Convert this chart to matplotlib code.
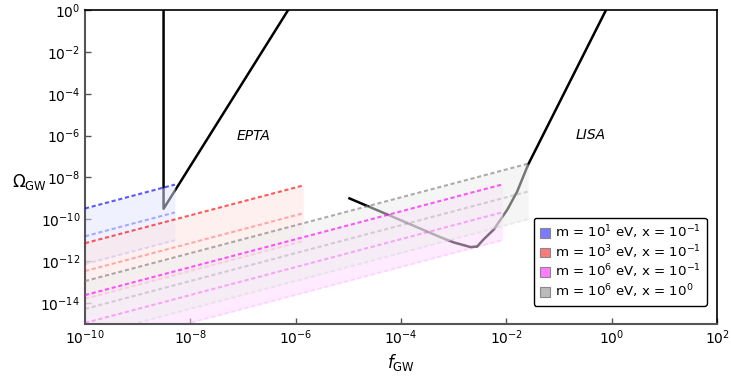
import numpy as np
import matplotlib
matplotlib.use("Agg")
import matplotlib.pyplot as plt
from matplotlib.patches import Patch

# sensitivity curves
epta_f = [3.1e-9, 3.1e-9, 7.2e-7]
epta_om = [1e0, 3.2e-10, 1e0]

lisa_f = [1.05e-5, 5.5e-5, 5.6e-4, 1.0e-3, 2.1e-3, 2.8e-3, 3.7e-3,
          5.8e-3, 1.05e-2, 1.6e-2, 2.6e-2, 0.78]
lisa_om = [1.0e-9, 1.7e-10, 1.4e-11, 7.9e-12, 4.7e-12, 5.1e-12, 1.1e-11,
           3.3e-11, 3.0e-10, 2.1e-9, 4.2e-8, 1e0]

# signal bands: start/end frequency and log10(Omega) of 3 lines at both ends
labels = [r"m = $10^{1}$ eV, x = $10^{-1}$",
          r"m = $10^{3}$ eV, x = $10^{-1}$",
          r"m = $10^{6}$ eV, x = $10^{-1}$",
          r"m = $10^{6}$ eV, x = $10^{0}$"]
colors = ["blue", "red", "magenta", "gray"]
fill_colors = ["#e2e5ff", "#ffe2e2", "#ffd8ff", "#ededed"]
patch_colors = ["#7b7bff", "#ff7b7b", "#ff7bff", "#bbbbbb"]
f_start = [1e-10, 1e-10, 1e-10, 1e-10]
f_end = [5.1e-9, 1.4e-6, 8.5e-3, 2.6e-2]
log_om_start = [[-9.48, -10.81, -12.14],
                [-11.14, -12.47, -13.80],
                [-13.62, -14.95, -16.28],
                [-12.95, -14.28, -15.61]]
log_om_end = [[-8.34, -9.67, -11.00],
              [-8.38, -9.71, -11.04],
              [-8.33, -9.66, -10.99],
              [-7.34, -8.67, -10.00]]
line_alpha = [0.65, 0.3, 0.1]

fig = plt.figure(figsize=(7.31, 3.77), dpi=100)
ax = fig.add_axes([0.1163, 0.1406, 0.8646, 0.8329])

ax.plot(epta_f, epta_om, color="black", lw=1.8, zorder=1)
ax.plot(lisa_f, lisa_om, color="black", lw=1.8, zorder=1)

for i in range(4):
    xs = [f_start[i], f_end[i]]
    top = [10**log_om_start[i][0], 10**log_om_end[i][0]]
    bot = [10**log_om_start[i][2], 10**log_om_end[i][2]]
    ax.fill_between(xs, bot, top, color=fill_colors[i], alpha=0.5, lw=0, zorder=2)
    for j in range(3):
        ax.plot(xs, [10**log_om_start[i][j], 10**log_om_end[i][j]],
                color=colors[i], alpha=line_alpha[j], lw=1.5,
                linestyle=(0, (2, 1.3)), zorder=3)

ax.text(1.6e-7, 1e-6, "EPTA", style="italic", fontsize=10, ha="center", va="center")
ax.text(0.4, 1.1e-6, "LISA", style="italic", fontsize=10, ha="center", va="center")

ax.set_xscale("log")
ax.set_yscale("log")
ax.set_xlim(1e-10, 1e2)
ax.set_ylim(1e-15, 1e0)
ax.set_xticks([10.0**k for k in range(-10, 3, 2)])
ax.set_yticks([10.0**k for k in range(-14, 1, 2)])
ax.minorticks_off()
ax.tick_params(direction="in", length=4, width=1, color="#555555", labelsize=10)

for s in ["left", "bottom"]:
    ax.spines[s].set_color("#555555")
    ax.spines[s].set_linewidth(1.5)
for s in ["top", "right"]:
    ax.spines[s].set_color("black")
    ax.spines[s].set_linewidth(1.2)

ax.set_xlabel(r"$f_{\rm GW}$", fontsize=12, va="center")
ax.xaxis.set_label_coords(0.5, -0.122)
ax.set_ylabel(r"$\Omega_{\rm GW}$", fontsize=12, rotation=0, ha="center", va="center")
ax.yaxis.set_label_coords(-0.088, 0.452)

handles = [Patch(facecolor=patch_colors[i], edgecolor="#888888", lw=0.8) for i in range(4)]
leg = ax.legend(handles, labels, loc="lower right", bbox_to_anchor=(0.984, 0.057),
                borderaxespad=0, fontsize=9.6, handlelength=0.75, handleheight=0.75,
                handletextpad=0.4, labelspacing=0.15, borderpad=0.45,
                fancybox=True, framealpha=1, edgecolor="black")
leg.get_frame().set_linewidth(1.0)

fig.savefig("out.png", dpi=100)
